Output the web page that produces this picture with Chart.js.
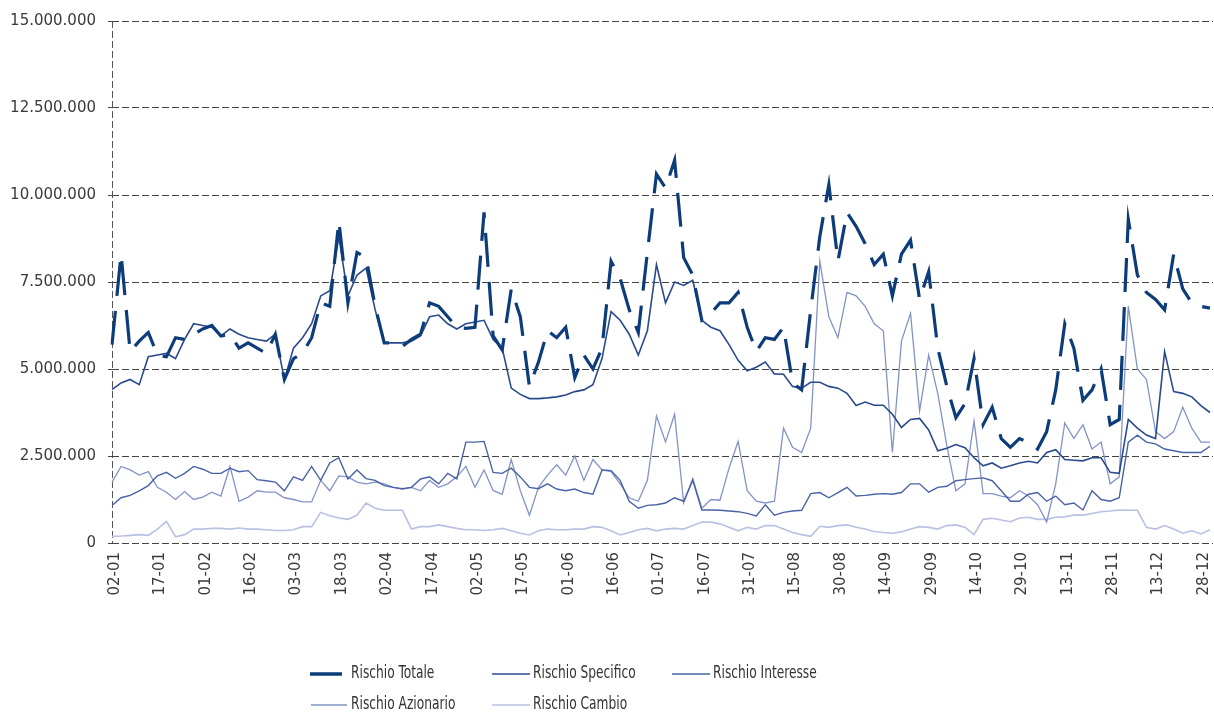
<!DOCTYPE html>
<html>
<head>
<meta charset="utf-8">
<script src="https://cdn.jsdelivr.net/npm/chart.js@4.4.1/dist/chart.umd.min.js"></script>
<style>
  html, body { margin: 0; padding: 0; background: #fff; }
  #wrap { width: 1214px; height: 713px; position: relative; }
</style>
</head>
<body>
<div id="wrap"><canvas id="rischi"></canvas></div>
<script>
// giorni dell'anno (01-01 ... 31-12), un campione ogni 3 giorni
var dayLabels = [];
for (var i = 0; i < 365; i++) {
	var dt = new Date(Date.UTC(2015, 0, 1) + i * 86400000);
	dayLabels.push(('0' + dt.getUTCDate()).slice(-2) + '-' + ('0' + (dt.getUTCMonth() + 1)).slice(-2));
}
var sampleDays = dayLabels.filter(function(d, i) { return i % 3 === 0; });

var yTicks = [0, 2500000, 5000000, 7500000, 10000000, 12500000, 15000000];

// valori in milioni di euro
var rischioTotale = [
	5.7, 8.3, 5.5, 5.8, 6.05, 5.4, 5.35, 5.9, 5.85, 6.0, 6.15, 6.25, 5.95, 6.0, 5.6, 5.75, 5.6, 5.45, 6.0, 4.7,
	5.3, 5.45, 5.9, 6.9, 6.8, 9.25, 6.9, 8.35, 8.2, 6.8, 5.75, 5.75, 5.65, 5.85, 6.0, 6.9, 6.8, 6.5, 6.2, 6.17,
	6.2, 9.5, 5.95, 5.55, 7.3, 6.5, 4.5, 5.2, 6.1, 5.9, 6.2, 4.75, 5.4, 5.0, 5.6, 8.1, 7.6, 6.7, 6.05, 8.35,
	10.6, 10.2, 11.0, 8.2, 7.7, 6.4, 6.6, 6.9, 6.9, 7.2, 6.2, 5.5, 5.9, 5.85, 6.2, 4.6, 4.4, 6.7, 8.8, 10.3,
	8.1, 9.5, 9.1, 8.6, 8.0, 8.3, 7.1, 8.3, 8.7, 7.0, 7.8, 5.6, 4.5, 3.6, 4.0, 5.3, 3.4, 3.9, 3.0, 2.75,
	3.0, 2.9, 2.7, 3.2, 4.4, 6.3, 5.6, 4.1, 4.4, 5.0, 3.4, 3.55, 9.3, 7.7, 7.2, 7.0, 6.7, 8.3, 7.3, 6.9, 6.8, 6.75
];
var rischioSpecifico = [
	4.41, 4.6, 4.7, 4.55, 5.35, 5.4, 5.45, 5.3, 5.85, 6.3, 6.25, 6.2, 5.95, 6.15, 6.0, 5.9, 5.85, 5.8, 6.0, 4.7,
	5.6, 5.9, 6.3, 7.1, 7.25, 8.8, 7.1, 7.7, 7.9, 6.7, 5.75, 5.75, 5.75, 5.8, 5.95, 6.5, 6.55, 6.3, 6.15, 6.3,
	6.35, 6.4, 5.85, 5.6, 4.45, 4.27, 4.15, 4.15, 4.17, 4.2, 4.25, 4.35, 4.4, 4.55, 5.3, 6.65, 6.4, 6.0, 5.4, 6.1,
	8.0, 6.9, 7.5, 7.4, 7.55, 6.4, 6.2, 6.1, 5.7, 5.25, 4.95, 5.05, 5.2, 4.86, 4.85, 4.5, 4.45, 4.62, 4.62, 4.5,
	4.45, 4.3, 3.95, 4.05, 3.96, 3.96, 3.7, 3.32, 3.55, 3.58, 3.25, 2.65, 2.72, 2.83, 2.74, 2.45, 2.22, 2.3, 2.15, 2.22,
	2.3, 2.35, 2.3, 2.6, 2.68, 2.4, 2.38, 2.36, 2.45, 2.45, 2.03, 2.0, 3.55, 3.3, 3.1, 3.0, 5.5, 4.35, 4.3, 4.2, 3.95, 3.75
];
var rischioInteresse = [
	1.08, 1.3, 1.37, 1.5, 1.65, 1.93, 2.03, 1.86, 2.0, 2.2, 2.12, 2.0, 2.0, 2.15, 2.05, 2.08, 1.82, 1.79, 1.75, 1.5,
	1.9, 1.8, 2.2, 1.8, 2.3, 2.45, 1.84, 2.1, 1.85, 1.8, 1.65, 1.6, 1.56, 1.6, 1.84, 1.9, 1.7, 2.0, 1.84, 2.9,
	2.9, 2.92, 2.03, 2.0, 2.15, 1.9, 1.6, 1.56, 1.7, 1.55, 1.5, 1.55, 1.45, 1.4, 2.1, 2.08, 1.8, 1.2, 1.0, 1.08,
	1.1, 1.15, 1.3, 1.2, 1.8, 0.95, 0.95, 0.94, 0.92, 0.9, 0.85, 0.78, 1.1, 0.8, 0.88, 0.92, 0.94, 1.42, 1.45, 1.3,
	1.45, 1.6, 1.35, 1.37, 1.4, 1.42, 1.4, 1.45, 1.7, 1.7, 1.46, 1.6, 1.63, 1.79, 1.82, 1.85, 1.87, 1.79, 1.5, 1.2,
	1.2, 1.4, 1.45, 1.2, 1.35, 1.1, 1.15, 0.95, 1.5, 1.25, 1.2, 1.3, 2.9, 3.1, 2.9, 2.85, 2.7, 2.65, 2.6, 2.6, 2.6, 2.78
];
var rischioAzionario = [
	1.75, 2.2, 2.1, 1.95, 2.05, 1.6, 1.46, 1.25, 1.48, 1.25, 1.32, 1.46, 1.35, 2.2, 1.2, 1.32, 1.5, 1.46, 1.46, 1.3,
	1.25, 1.18, 1.18, 1.8, 1.5, 1.93, 1.9, 1.75, 1.7, 1.75, 1.7, 1.6, 1.55, 1.6, 1.5, 1.8, 1.6, 1.7, 1.9, 2.2,
	1.6, 2.1, 1.51, 1.4, 2.4, 1.5, 0.8, 1.6, 1.95, 2.25, 1.95, 2.5, 1.8, 2.4, 2.1, 2.05, 1.7, 1.3, 1.2, 1.8,
	3.65, 2.9, 3.7, 1.15, 1.85, 1.0, 1.25, 1.23, 2.15, 2.92, 1.5, 1.2, 1.15, 1.2, 3.3, 2.75, 2.6, 3.3, 8.1, 6.5,
	5.9, 7.2, 7.1, 6.8, 6.3, 6.1, 2.6, 5.8, 6.6, 3.8, 5.4, 4.3, 2.8, 1.5, 1.7, 3.5, 1.42, 1.42, 1.35, 1.3,
	1.5, 1.35, 1.1, 0.6, 1.7, 3.45, 3.0, 3.4, 2.7, 2.9, 1.7, 1.9, 6.8, 5.0, 4.7, 3.2, 3.0, 3.2, 3.9, 3.3, 2.9, 2.9
];
var rischioCambio = [
	0.19, 0.2, 0.22, 0.24, 0.22, 0.4, 0.62, 0.18, 0.24, 0.4, 0.4, 0.42, 0.42, 0.4, 0.43, 0.4, 0.4, 0.38, 0.36, 0.36,
	0.38, 0.47, 0.47, 0.88, 0.78, 0.72, 0.68, 0.8, 1.15, 1.0, 0.94, 0.94, 0.94, 0.4, 0.47, 0.47, 0.52, 0.47, 0.42, 0.38,
	0.38, 0.36, 0.38, 0.42, 0.35, 0.28, 0.23, 0.35, 0.4, 0.38, 0.38, 0.4, 0.4, 0.47, 0.45, 0.35, 0.23, 0.3, 0.38, 0.42,
	0.35, 0.4, 0.42, 0.4, 0.5, 0.6, 0.6, 0.55, 0.45, 0.35, 0.45, 0.4, 0.5, 0.5, 0.4, 0.3, 0.24, 0.19, 0.48, 0.45,
	0.5, 0.52, 0.45, 0.4, 0.33, 0.3, 0.28, 0.32, 0.4, 0.47, 0.45, 0.4, 0.5, 0.52, 0.45, 0.24, 0.68, 0.71, 0.66, 0.61,
	0.72, 0.74, 0.68, 0.68, 0.74, 0.75, 0.8, 0.8, 0.85, 0.9, 0.92, 0.95, 0.94, 0.94, 0.45, 0.4, 0.5, 0.4, 0.28, 0.35, 0.26, 0.38
];

var seriesNames = ['Rischio Totale', 'Rischio Specifico', 'Rischio Interesse', 'Rischio Azionario', 'Rischio Cambio'];
var seriesValues = [rischioTotale, rischioSpecifico, rischioInteresse, rischioAzionario, rischioCambio];
var seriesColors = ['#0d3c7a', '#2a4a8e', '#4862a5', '#8293c6', '#b8c1e2'];
var seriesWidths = [3.2, 1.6, 1.4, 1.3, 1.6];

function fmtNum(v) {
	return String(v).replace(/\B(?=(\d{3})+(?!\d))/g, '.');
}

var datasets = seriesNames.map(function(name, k) {
	return {
		label: name,
		data: sampleDays.map(function(d, i) { return { x: d, y: seriesValues[k][i] * 1000000 }; }),
		borderColor: seriesColors[k],
		backgroundColor: seriesColors[k],
		borderWidth: seriesWidths[k],
		borderDash: k === 0 ? [34, 15] : [],
		pointRadius: 0,
		tension: 0,
		fill: false
	};
});

// legenda a griglia come nell'originale
var gridLegend = {
	id: 'gridLegend',
	afterDraw: function(chart) {
		var ctx = chart.ctx;
		var slots = [
			[310, 674, 32, 351], [492, 674, 38, 533], [672, 674, 38, 713],
			[311, 705, 36, 351], [492, 705, 38, 533]
		];
		ctx.save();
		ctx.font = "17px 'DejaVu Sans Condensed', 'DejaVu Sans', sans-serif";
		ctx.textBaseline = 'middle';
		ctx.fillStyle = '#333';
		chart.data.datasets.forEach(function(ds, k) {
			var s = slots[k];
			ctx.beginPath();
			ctx.lineWidth = k === 0 ? 3.5 : 1.6;
			ctx.strokeStyle = ds.borderColor;
			ctx.moveTo(s[0], s[1]);
			ctx.lineTo(s[0] + s[2], s[1]);
			ctx.stroke();
			ctx.save();
			ctx.translate(s[3], s[1]);
			ctx.scale(0.8, 1);
			ctx.fillText(ds.label, 0, 0);
			ctx.restore();
		});
		ctx.restore();
	}
};

var config = {
	type: 'line',
	data: { labels: dayLabels, datasets: datasets },
	options: {
		responsive: true,
		maintainAspectRatio: false,
		animation: false,
		devicePixelRatio: 1,
		layout: { padding: { top: 17, right: 1, left: 0, bottom: 0 } },
		plugins: { legend: { display: false }, tooltip: { enabled: false }, title: { display: false } },
		scales: {
			x: {
				type: 'category',
				offset: false,
				grid: {
					display: true,
					drawTicks: false,
					color: function(c) { return c.index === 0 ? '#555' : 'rgba(0,0,0,0)'; }
				},
				border: { display: false, dash: [7, 3] },
				ticks: {
					autoSkip: false,
					minRotation: 90,
					maxRotation: 90,
					padding: 9,
					color: '#3a3a3a',
					font: { family: 'DejaVu Sans', size: 15 },
					callback: function(v, i) { return i % 15 === 1 ? dayLabels[i] : ''; }
				},
				afterFit: function(s) { s.height = 170; s.paddingLeft = 0; s.paddingRight = 0; }
			},
			y: {
				min: 0,
				max: 15000000,
				afterBuildTicks: function(s) { s.ticks = yTicks.map(function(v) { return { value: v }; }); },
				grid: { color: '#444', lineWidth: 1, tickLength: 4 },
				border: { display: false, dash: [7, 3] },
				ticks: {
					padding: 12,
					color: '#3a3a3a',
					font: { family: 'DejaVu Sans', size: 15 },
					callback: function(v) { return fmtNum(v); }
				},
				afterFit: function(s) { s.width = 112; }
			}
		}
	},
	plugins: [gridLegend]
};

window.rischi_chart = new Chart(document.getElementById('rischi').getContext('2d'), config);
</script>
</body>
</html>
